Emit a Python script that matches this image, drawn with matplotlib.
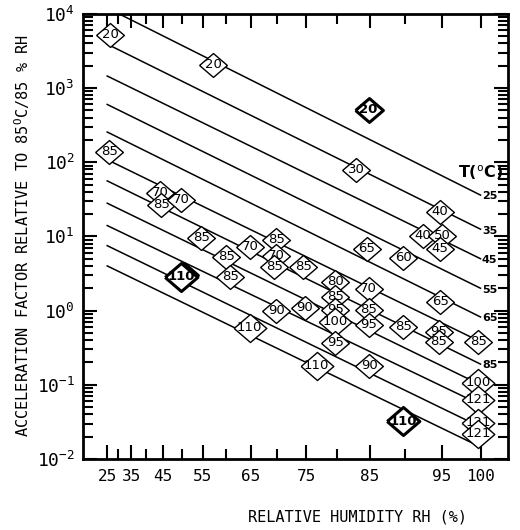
import numpy as np
import matplotlib
matplotlib.use('Agg')
import matplotlib.pyplot as plt
from matplotlib.ticker import LogLocator, NullFormatter

plt.rcParams['font.family'] = ['DejaVu Sans Mono']
plt.rcParams['mathtext.fontset'] = 'custom'
plt.rcParams['mathtext.rm'] = 'DejaVu Sans Mono'
plt.rcParams['mathtext.it'] = 'DejaVu Sans Mono'

# constant temperature lines, AF at RH = 25 % and at RH = 100 %
rh_start = 25
rh_end = 100
af_start = [12000, 3900, 1450, 600, 255, 108, 56, 28, 14, 7.5, 4.0]
af_end = [36, 12.5, 5.0, 2.0, 0.82, 0.38, 0.19, 0.10, 0.054, 0.027, 0.0145]
line_labels = ['25', '35', '45', '55', '65', '', '85', '', '', '', '']

# published test points (temperature in the diamond)
pt_rh = [26.5, 57.3, 84.8, 82.9, 94.8, 92.5, 95.1, 94.8, 26.0, 44.2,
         44.5, 49.8, 54.7, 60.1, 61.0, 64.9, 69.8, 69.8, 69.4, 74.5,
         84.5, 89.8, 79.7, 84.8, 79.7, 79.7, 79.7, 84.8, 84.8, 69.8,
         74.7, 89.8, 94.6, 94.6, 94.8, 99.7, 79.7, 64.8, 76.7, 84.9,
         89.8, 99.7, 99.7, 99.7, 99.7, 50.5, 49.8]
pt_af = [5200, 2050, 510, 79, 21.5, 10.2, 10.2, 6.8, 138, 38.7,
         26.7, 31.1, 9.6, 5.3, 2.86, 7.2, 9.0, 5.5, 3.9, 3.9,
         6.8, 5.15, 2.44, 1.97, 1.53, 1.03, 0.71, 1.03, 0.64, 1.0,
         1.09, 0.605, 0.52, 0.38, 1.31, 0.38, 0.37, 0.59, 0.18, 0.18,
         0.032, 0.106, 0.063, 0.031, 0.022, 3.05, 2.85]
pt_lab = ['20', '20', '20', '30', '40', '40', '50', '45', '85', '70',
          '85', '70', '85', '85', '85', '70', '85', '70', '85', '85',
          '65', '60', '80', '70', '85', '95', '100', '85', '95', '90',
          '90', '85', '95', '85', '65', '85', '95', '110', '110', '90',
          '110', '100', '121', '121', '121', '90', '110']
pt_bold = [2, 40, 45, 46]

fig = plt.figure(figsize=(5.2, 5.3), dpi=100)
ax = fig.add_axes([0.16, 0.134, 0.817, 0.84])

ax.set_xscale('function', functions=(lambda x: x ** 2,
                                     lambda x: np.sqrt(np.clip(x, 0, None))))
ax.set_yscale('log')
ax.set_xlim(4.7, 103.4)
ax.set_ylim(1e-2, 1e4)

for a0, a1, lab in zip(af_start, af_end, line_labels):
    ax.plot([rh_start, rh_end], [a0, a1], color='black', lw=1.1, zorder=2)
    if lab:
        ax.annotate(lab, xy=(rh_end, a1), xytext=(1, -1), textcoords='offset points',
                    ha='left', va='center', fontsize=8, fontweight='bold',
                    family='DejaVu Sans')

ax.text(100, 72, r'T($^{\mathrm{o}}$C)', ha='center', va='center', fontsize=11.5,
        fontweight='bold', family='DejaVu Sans')

diamond = [(-1, 0), (0, 0.86), (1, 0), (0, -0.86), (-1, 0)]
for i, (x, y, lab) in enumerate(zip(pt_rh, pt_af, pt_lab)):
    bold = i in pt_bold
    ms = 20 if len(lab) < 3 else 23.5
    ax.plot([x], [y], marker=diamond, ms=ms, mfc='white', mec='black',
            mew=2.2 if bold else 1.0, ls='none', zorder=3 + i)
    ax.text(x, y, lab, ha='center', va='center', fontsize=9.5,
            family='DejaVu Sans', fontweight='bold' if bold else 'normal',
            zorder=3.5 + i)

ax.set_xticks([25, 35, 45, 55, 65, 75, 85, 95, 100])
ax.set_xticks([30, 40, 50, 60, 70, 80, 90], minor=True)
ax.xaxis.set_minor_formatter(NullFormatter())
ax.set_yticks([1e-2, 1e-1, 1e0, 1e1, 1e2, 1e3, 1e4],
              labels=[r'$10^{-2}$', r'$10^{-1}$', r'$10^{0}$', r'$10^{1}$',
                      r'$10^{2}$', r'$10^{3}$', r'$10^{4}$'])
ax.yaxis.set_minor_locator(LogLocator(base=10, subs=np.arange(2, 10)))
ax.yaxis.set_minor_formatter(NullFormatter())

ax.tick_params(which='both', direction='in', top=True, right=True, width=1.5)
ax.tick_params(which='major', length=10)
ax.tick_params(which='minor', length=7)
ax.tick_params(axis='x', labelsize=11.5, pad=7)
ax.tick_params(axis='y', labelsize=13, pad=6)
for sp in ax.spines.values():
    sp.set_linewidth(2)

fig.text(0.042, 0.555, r'ACCELERATION FACTOR RELATIVE TO 85$^{\mathrm{O}}$C/85 % RH',
         rotation=90, ha='center', va='center', fontsize=11)
fig.text(0.687, 0.025, 'RELATIVE HUMIDITY RH (%)', ha='center', va='center', fontsize=11)

fig.savefig('out.png', dpi=100, facecolor='white')
